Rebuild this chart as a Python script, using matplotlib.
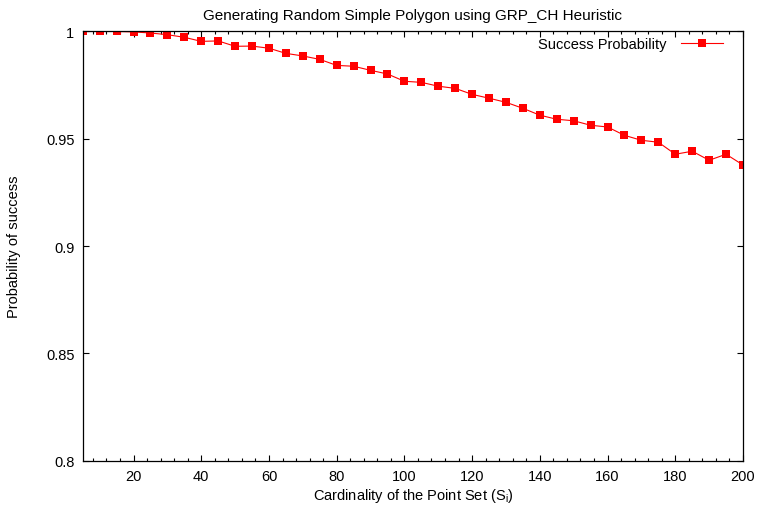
import matplotlib
matplotlib.use("Agg")
import matplotlib.pyplot as plt
from matplotlib.ticker import MultipleLocator, FuncFormatter

plt.rcParams['font.family'] = ['Liberation Sans', 'DejaVu Sans']

# Point set sizes and measured success probability
set_sizes = list(range(5, 201, 5))
success_prob = [
    1.0000, 1.0000, 1.0000, 0.9998, 0.9993, 0.9985, 0.9973, 0.9954, 0.9956, 0.9931,
    0.9932, 0.9922, 0.9898, 0.9886, 0.9870, 0.9842, 0.9838, 0.9819, 0.9802, 0.9768,
    0.9763, 0.9745, 0.9735, 0.9707, 0.9689, 0.9670, 0.9642, 0.9610, 0.9591, 0.9584,
    0.9563, 0.9555, 0.9516, 0.9493, 0.9484, 0.9428, 0.9442, 0.9400, 0.9428, 0.9378,
]

title = "Generating Random Simple Polygon using GRP_CH Heuristic"
xlabel = r"Cardinality of the Point Set (S$_\mathregular{i}$)"
ylabel = "Probability of success"
series_label = "Success Probability"

fig = plt.figure(figsize=(7.57, 5.10), dpi=100)
ax = fig.add_axes([0.1093, 0.0947, 0.8722, 0.8416])

ax.plot(set_sizes, success_prob, color='#ff0000', linewidth=0.8,
        marker='s', markersize=5.2, markeredgewidth=0, label=series_label)

ax.set_xlim(5, 200)
ax.set_ylim(0.8, 1.0)
ax.xaxis.set_major_locator(MultipleLocator(20))
ax.xaxis.set_minor_locator(MultipleLocator(4))
ax.yaxis.set_major_locator(MultipleLocator(0.05))
ax.yaxis.set_major_formatter(FuncFormatter(lambda v, p: "%g" % round(v, 4)))

ax.tick_params(which='both', direction='in', top=True, right=True,
               labelsize=10.5, width=0.8, colors='black')
ax.tick_params(which='major', length=4.5, pad=6)
ax.tick_params(which='minor', length=2.2)
for s in ax.spines.values():
    s.set_linewidth(0.9)
    s.set_color('black')

ax.set_title(title, fontsize=11, pad=9)
ax.set_xlabel(xlabel, fontsize=10.5, labelpad=2)
ax.set_ylabel(ylabel, fontsize=10.5, labelpad=18)

ax.legend(loc='upper right', bbox_to_anchor=(0.979, 1.0), frameon=False,
          markerfirst=False, fontsize=10.5, handlelength=2.9,
          borderaxespad=0.0, handletextpad=1.0)

fig.savefig("out.png", dpi=100)
